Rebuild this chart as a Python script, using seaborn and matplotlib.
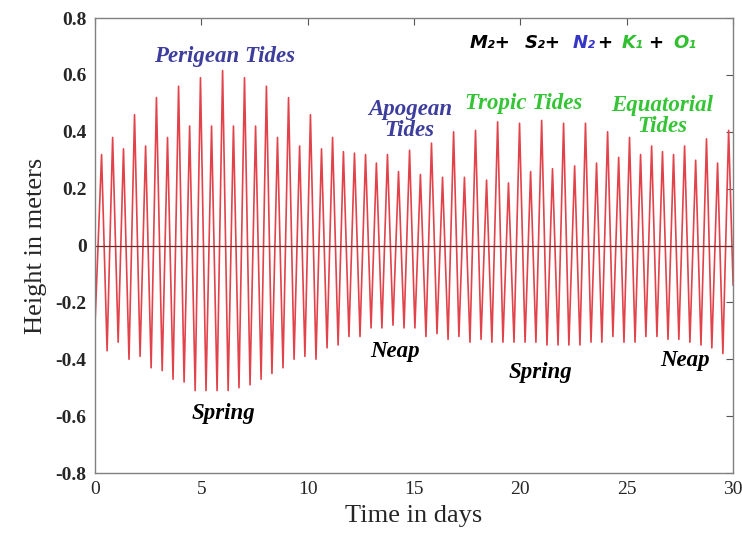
import pandas as pd
import seaborn as sns
import matplotlib.pyplot as plt

# high waters (day, metres)
high_days = [0.31, 0.83, 1.34, 1.86, 2.38, 2.89, 3.41, 3.93, 4.45, 4.96,
             5.48, 6.00, 6.51, 7.03, 7.55, 8.06, 8.58, 9.10, 9.62, 10.13,
             10.65, 11.17, 11.68, 12.20, 12.72, 13.23, 13.75, 14.27, 14.79, 15.30,
             15.82, 16.34, 16.86, 17.37, 17.89, 18.41, 18.93, 19.44, 19.96, 20.48,
             21.00, 21.51, 22.03, 22.55, 23.06, 23.58, 24.10, 24.62, 25.13, 25.65,
             26.17, 26.68, 27.20, 27.72, 28.24, 28.75, 29.27, 29.79]
high_m = [0.32, 0.38, 0.34, 0.46, 0.35, 0.52, 0.38, 0.56, 0.42, 0.59,
          0.42, 0.615, 0.42, 0.59, 0.42, 0.56, 0.38, 0.52, 0.35, 0.46,
          0.34, 0.38, 0.33, 0.325, 0.32, 0.29, 0.32, 0.26, 0.335, 0.25,
          0.36, 0.24, 0.40, 0.24, 0.405, 0.23, 0.435, 0.22, 0.43, 0.26,
          0.44, 0.27, 0.43, 0.28, 0.43, 0.29, 0.40, 0.31, 0.38, 0.32,
          0.35, 0.33, 0.32, 0.35, 0.30, 0.375, 0.29, 0.405]

# low waters, including the values at both ends of the record
low_days = [0.0, 0.57, 1.09, 1.60, 2.12, 2.64, 3.16, 3.67, 4.19, 4.71, 5.22,
            5.74, 6.26, 6.77, 7.29, 7.81, 8.32, 8.84, 9.36, 9.87, 10.39,
            10.91, 11.43, 11.94, 12.46, 12.98, 13.49, 14.01, 14.53, 15.04, 15.56,
            16.08, 16.60, 17.11, 17.63, 18.15, 18.66, 19.18, 19.70, 20.22, 20.73,
            21.25, 21.77, 22.28, 22.80, 23.32, 23.83, 24.35, 24.87, 25.39, 25.90,
            26.42, 26.94, 27.45, 27.97, 28.49, 29.00, 29.52, 30.0]
low_m = [-0.28, -0.37, -0.34, -0.40, -0.39, -0.43, -0.44, -0.47, -0.48, -0.51, -0.51,
         -0.51, -0.51, -0.50, -0.49, -0.47, -0.45, -0.43, -0.40, -0.39, -0.40,
         -0.36, -0.35, -0.32, -0.32, -0.29, -0.29, -0.28, -0.29, -0.29, -0.32,
         -0.31, -0.33, -0.32, -0.34, -0.33, -0.34, -0.34, -0.34, -0.34, -0.34,
         -0.35, -0.35, -0.35, -0.35, -0.34, -0.34, -0.32, -0.34, -0.34, -0.32,
         -0.32, -0.33, -0.33, -0.34, -0.35, -0.36, -0.38, -0.14]

x_ticks = [0, 5, 10, 15, 20, 25, 30]
y_ticks = [-0.8, -0.6, -0.4, -0.2, 0, 0.2, 0.4, 0.6, 0.8]
y_tick_labels = ["-0.8", "-0.6", "-0.4", "-0.2", "0", "0.2", "0.4", "0.6", "0.8"]

# labels inside the plot: text, day, height, colour
notes = [
    ("Perigean Tides", 6.1, 0.663, "#3d3d9e"),
    ("Apogean\nTides", 14.8, 0.44, "#3d3d9e"),
    ("Tropic Tides", 20.17, 0.50, "#35c435"),
    ("Equatorial\nTides", 26.66, 0.455, "#35c435"),
    ("Spring", 6.03, -0.589, "black"),
    ("Neap", 14.1, -0.374, "black"),
    ("Spring", 20.92, -0.448, "black"),
    ("Neap", 27.74, -0.403, "black"),
]

# constituents formula pieces: text, left day, colour
formula = [
    ("M₂+", 17.63, "black"),
    ("S₂+", 20.22, "black"),
    ("N₂", 22.47, "#3535c8"),
    ("+", 23.62, "black"),
    ("K₁", 24.78, "#2fbf2f"),
    ("+", 26.0, "black"),
    ("O₁", 27.18, "#2fbf2f"),
]

tide = pd.DataFrame({"day": high_days + low_days,
                     "height": high_m + low_m}).sort_values("day")

sns.set_theme(style="white")
plt.rcParams["font.family"] = ["Liberation Serif", "DejaVu Serif"]

fig = plt.figure(figsize=(7.42, 5.38), dpi=100)
ax = fig.add_axes([0.128, 0.1208, 0.86, 0.8457])

sns.lineplot(data=tide, x="day", y="height", color="#e2424a", lw=1.2, ax=ax)
ax.axhline(0, color="#6b2b2b", lw=0.9)

ax.set_xlim(0, 30)
ax.set_ylim(-0.8, 0.8)
ax.set_xticks(x_ticks)
ax.set_xticklabels([str(t) for t in x_ticks])
ax.set_yticks(y_ticks)
ax.set_yticklabels(y_tick_labels)
ax.tick_params(direction="in", top=True, right=True, length=5, width=0.8,
               color="#555555", labelsize=14, pad=6)
for lab in ax.get_yticklabels():
    lab.set_fontweight("bold")
for sp in ax.spines.values():
    sp.set_color("#808080")
    sp.set_linewidth(1.0)

ax.set_xlabel("Time in days", fontsize=19, labelpad=5)
ax.set_ylabel("Height in meters", fontsize=19, labelpad=6)

for txt, d, h, c in notes:
    ax.text(d, h, txt, color=c, fontsize=16.5, fontweight="bold", fontstyle="italic",
            ha="center", va="center", linespacing=1.0)

for txt, d, c in formula:
    ax.text(d, 0.712, txt, color=c, fontsize=13, fontweight="bold", fontstyle="italic",
            family="DejaVu Sans", ha="left", va="center")

fig.savefig("out.png", dpi=100)
